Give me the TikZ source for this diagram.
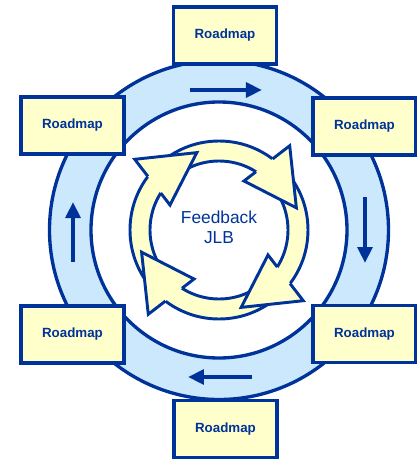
\documentclass[tikz,border=0pt]{standalone}
\usepackage{fontspec}
\setmainfont{Liberation Sans}
\usetikzlibrary{arrows.meta,calc}

\definecolor{rmblue}{RGB}{0,51,153}
\definecolor{ringblue}{RGB}{204,232,252}
\definecolor{rmyellow}{RGB}{255,255,204}

\tikzset{
  roadmap/.style={draw=rmblue, line width=2.6pt, fill=rmyellow,
    minimum width=77pt, minimum height=43pt, inner sep=0pt,
    text=rmblue, font=\bfseries\fontsize{10}{12}\selectfont},
  ringline/.style={draw=rmblue, line width=2.5pt},
  loopline/.style={draw=rmblue, line width=2.2pt},
  flow/.style={->, draw=rmblue, line width=3pt},
}

\begin{document}
\begin{tikzpicture}[x=0.75pt, y=0.75pt, >={Triangle[length=12pt, width=11pt]}]
    \newcommand\kRo{169.5}
    \newcommand\kRi{128}
    \newcommand\kYo{89}
    \newcommand\kYi{69}
    \useasboundingbox (-219,230) rectangle (198,-232);
    \fill[white] (-219,230) rectangle (198,-232);
    \fill[ringblue, even odd rule]
      (0,0) circle (\kRo)
      (0,0) circle (\kRi);
    \draw[ringline]
      (0,0) circle (\kRo)
      (0,0) circle (\kRi);
    \draw[flow] (-29,140) -- (43,140);
    \draw[flow] (146,33) -- (146,-33);
    \draw[flow] (33,-147) -- (-31,-147);
    \draw[flow] (-146,-32) -- (-146,28);
    \node[roadmap] (rmTop) at (6,194.5) {Roadmap};
    \node[roadmap] (rmUL) at (-146.5,104.5) {Roadmap};
    \node[roadmap] (rmUR) at (145.5,103.5) {Roadmap};
    \node[roadmap] (rmLL) at (-146.5,-104.5) {Roadmap};
    \node[roadmap] (rmLR) at (145.5,-104) {Roadmap};
    \node[roadmap] (rmBot) at (6.5,-199) {Roadmap};
    \fill[rmyellow, even odd rule]
      (0,0) circle (\kYo)
      (0,0) circle (\kYi);
    \draw[loopline]
      (0,0) circle (\kYo)
      (0,0) circle (\kYi);
    \foreach \a in {50,140,230,320} {
      \coordinate (hIn) at ({\a+13}:55);
      \coordinate (hOut) at (\a:110);
      \coordinate (hTip) at ({\a-34}:80.5);
      \fill[rmyellow] (hIn) -- (hTip) -- (hOut) -- cycle;
      \draw[loopline, line join=miter]
        ($(hIn)!0.262!(hOut)$) --
        (hIn) --
        (hTip) --
        (hOut) --
        ($(hIn)!0.626!(hOut)$);
    }
    \node[text=rmblue, align=center, font=\fontsize{13}{15}\selectfont]
      (fb) at (0,3) {Feedback\\JLB};
\end{tikzpicture}
\end{document}
